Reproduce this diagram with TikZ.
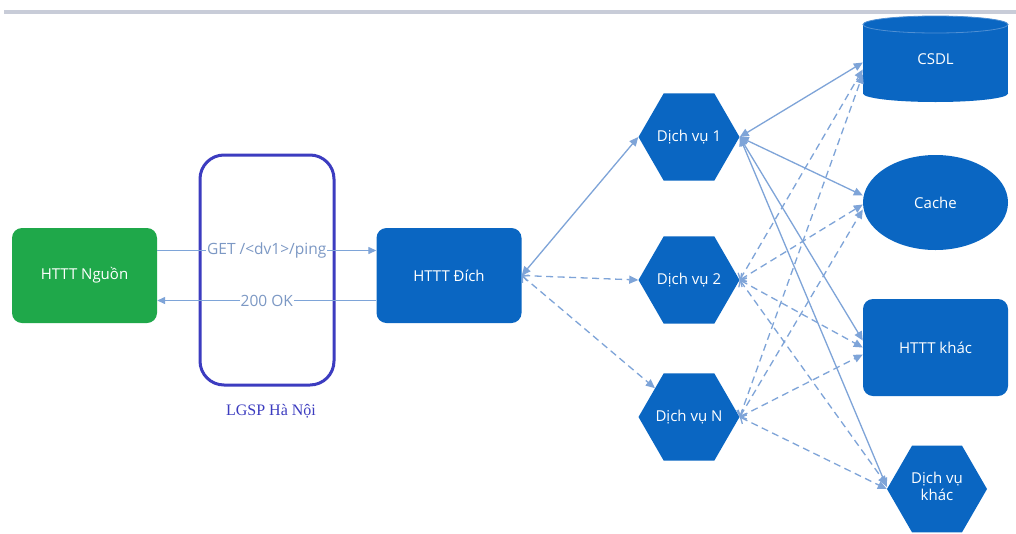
\documentclass[tikz,border=0pt]{standalone}
\usepackage{fontspec}
\setmainfont{Open Sans}
\newfontfamily\viserif{Liberation Serif}
\usetikzlibrary{shapes.geometric,arrows.meta,calc}
\definecolor{nodeblue}{HTML}{0A66C2}
\definecolor{nodegreen}{HTML}{1FA84A}
\definecolor{linkblue}{HTML}{7EA4D8}
\definecolor{lgspblue}{HTML}{3C3CC0}
\definecolor{labelgray}{HTML}{7C98C4}
\definecolor{barcol}{HTML}{C8CCD8}
\definecolor{rimblue}{HTML}{4F8FD3}
\newcommand{\zw}[1]{\makebox[0pt]{#1}}
\begin{document}
\begin{tikzpicture}[x=1pt,y=-1pt,
  nodefont/.style={font=\fontsize{15}{17}\selectfont},
  box/.style={rectangle, rounded corners=10pt, fill=nodeblue, text=white,
    minimum width=145pt, minimum height=95pt, inner sep=0pt, nodefont},
  hex/.style={regular polygon, regular polygon sides=6, fill=nodeblue, text=white,
    minimum size=101pt, inner sep=0pt, nodefont},
  link/.style={draw=linkblue, line width=1.3pt},
  solidlink/.style={link, {Triangle[length=9pt,width=8pt]}-{Triangle[length=9pt,width=8pt]}},
  dashlink/.style={link, dash pattern=on 7pt off 4.5pt,
    {Straight Barb[length=4.5pt,width=10pt]}-{Triangle[length=9pt,width=8pt]}},
  onearrow/.style={link, -{Triangle[length=8pt,width=7pt]}},
  msg/.style={fill=white, inner sep=1pt, text=labelgray, font=\fontsize{15.5}{17}\selectfont},
]
\useasboundingbox (0,0) rectangle (1016,533);
\fill[white] (0,0) rectangle (1016,533);
% top bar
\fill[barcol] (4,9.5) rectangle (1016,13.5);

% left part
\node[box, fill=nodegreen] (nguon) at (84.5,275.5) {HTTT Nguồn};
\node[box] (dich) at (449,275.5) {HTTT Đích};
\node[draw=lgspblue, line width=3pt, rounded corners=24pt, minimum width=134pt,
  minimum height=230pt, inner sep=0pt] (lgsp) at (267,270) {};
\node[text=lgspblue, font=\viserif\fontsize{16}{18}\selectfont] (lgsplabel) at (271,411) {LGSP Hà Nội};

\draw[onearrow] ($(nguon.east)+(0,-25)$) -- node[msg] {GET /<dv1>/ping} ($(dich.west)+(0,-25)$);
\draw[onearrow] ($(dich.west)+(0,25)$) -- node[msg] {200 OK} ($(nguon.east)+(0,25)$);

% services
\node[hex] (dv1) at (689,137) {\zw{Dịch vụ 1}};
\node[hex] (dv2) at (689,280) {\zw{Dịch vụ 2}};
\node[hex] (dvn) at (689,417) {\zw{Dịch vụ N}};

% right column
\fill[nodeblue] (863,24.5) rectangle (1008,93.5);
\fill[nodeblue] (935.5,93.5) ellipse [x radius=72.5, y radius=8.5];
\fill[nodeblue] (935.5,24.5) ellipse [x radius=72.5, y radius=8.5];
\draw[rimblue, line width=0.8pt] (935.5,24.5) ellipse [x radius=72.5, y radius=8.5];
\node[text=white, nodefont, minimum width=145pt, minimum height=86pt, inner sep=0pt] (csdl) at (935.5,59.5) {CSDL};
\node[ellipse, fill=nodeblue, text=white, nodefont, minimum width=145pt,
  minimum height=95pt, inner sep=0pt] (cache) at (935.5,202.5) {Cache};
\node[box, minimum height=97pt] (khac) at (935.5,347.5) {HTTT khác};
\node[hex, minimum size=100pt] (dvk) at (937,489)
  {\zw{\begin{tabular}{@{}c@{}}Dịch vụ\\[0pt]khác\end{tabular}}};

% links from HTTT Dich
\draw[solidlink] (dich.east) -- (dv1.west);
\draw[dashlink] (dich.east) -- (dv2.west);
\draw[dashlink] (dich.east) -- (dvn);

% links from Dich vu 1
\draw[solidlink] (dv1.east) -- ($(csdl.west)+(0,3)$);
\draw[solidlink] (dv1.east) -- ($(cache.west)+(0,-7)$);
\draw[solidlink] (dv1.east) -- ($(khac.west)+(0,-7)$);
\draw[solidlink] (dv1.east) -- ($(dvk.west)+(0,-2)$);
% links from Dich vu 2
\draw[dashlink] (dv2.east) -- ($(csdl.west)+(0,10)$);
\draw[dashlink] (dv2.east) -- ($(cache.west)+(0,2)$);
\draw[dashlink] (dv2.east) -- ($(khac.west)+(0,0)$);
\draw[dashlink] (dv2.east) -- ($(dvk.west)+(0,-4)$);
% links from Dich vu N
\draw[dashlink] (dvn.east) -- ($(csdl.west)+(0,15)$);
\draw[dashlink] (dvn.east) -- ($(cache.west)+(0,7)$);
\draw[dashlink] (dvn.east) -- ($(khac.west)+(0,7)$);
\draw[dashlink] (dvn.east) -- ($(dvk.west)+(0,0)$);
\end{tikzpicture}
\end{document}
